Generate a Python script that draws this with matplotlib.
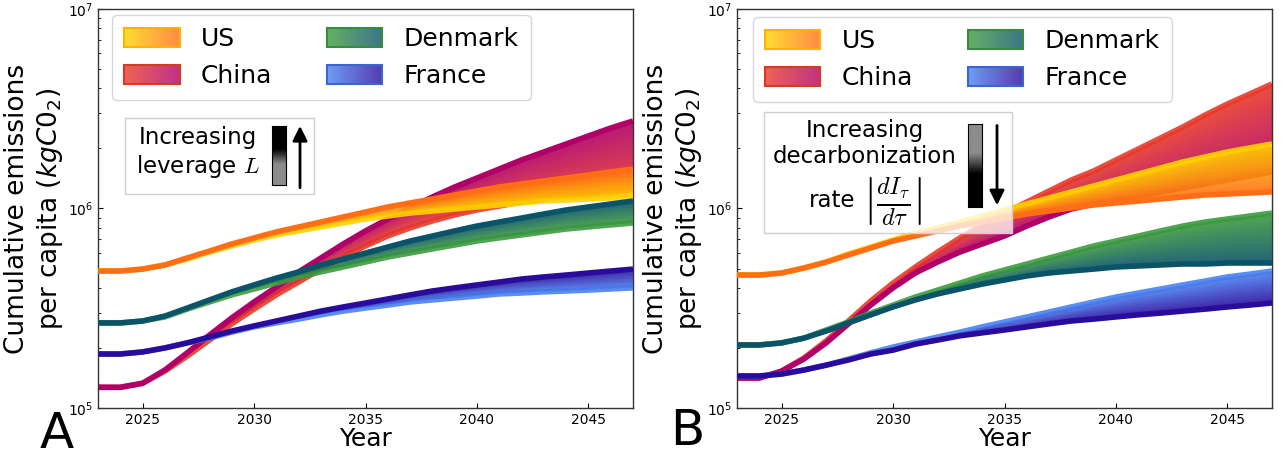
import numpy as np
import matplotlib
matplotlib.use("Agg")
import matplotlib.pyplot as plt
from matplotlib.colors import LinearSegmentedColormap, to_rgb
from matplotlib.patches import Rectangle
from matplotlib.legend_handler import HandlerBase
from matplotlib.ticker import NullFormatter

years = list(range(2023, 2048))
countries = ["US", "China", "Denmark", "France"]

# envelopes of the ensembles, in units of 1e5 kgCO2 per capita
# panel A (leverage L)
us_a_hi = [4.86, 4.86, 4.97, 5.21, 5.65, 6.12, 6.64, 7.12, 7.63, 8.08, 8.56, 9.07, 9.60,
           10.18, 10.66, 11.16, 11.69, 12.24, 12.82, 13.27, 13.74, 14.22, 14.72, 15.24, 15.78]
us_a_lo = [4.86, 4.86, 4.97, 5.21, 5.58, 6.05, 6.49, 6.95, 7.37, 7.72, 8.08, 8.46, 8.86,
           9.17, 9.49, 9.71, 9.94, 10.18, 10.41, 10.66, 10.90, 11.03, 11.16, 11.29, 11.42]
china_a_hi = [1.27, 1.27, 1.33, 1.55, 1.89, 2.32, 2.83, 3.40, 4.04, 4.81, 5.65, 6.64, 7.72,
              8.86, 10.06, 11.42, 12.82, 14.22, 15.78, 17.51, 19.20, 21.06, 23.10, 25.32, 27.46]
china_a_lo = [1.27, 1.27, 1.33, 1.53, 1.82, 2.19, 2.64, 3.13, 3.69, 4.28, 4.97, 5.71, 6.49,
              7.28, 7.99, 8.66, 9.28, 9.83, 10.29, 10.78, 11.16, 11.55, 11.82, 12.10, 12.38]
denmark_a_hi = [2.67, 2.67, 2.73, 2.89, 3.17, 3.48, 3.82, 4.14, 4.48, 4.81, 5.21, 5.58, 5.98,
                6.41, 6.87, 7.28, 7.72, 8.17, 8.56, 8.96, 9.39, 9.83, 10.18, 10.54, 10.90]
denmark_a_lo = [2.67, 2.67, 2.73, 2.86, 3.13, 3.40, 3.69, 3.95, 4.23, 4.54, 4.81, 5.09, 5.39,
                5.71, 5.98, 6.27, 6.56, 6.87, 7.12, 7.37, 7.63, 7.89, 8.08, 8.27, 8.46]
france_a_hi = [1.865, 1.865, 1.91, 2.00, 2.12, 2.27, 2.43, 2.58, 2.73, 2.89, 3.06, 3.21, 3.36,
               3.52, 3.69, 3.86, 4.00, 4.14, 4.28, 4.43, 4.54, 4.64, 4.75, 4.86, 4.97]
france_a_lo = [1.865, 1.865, 1.91, 2.00, 2.12, 2.24, 2.40, 2.55, 2.67, 2.79, 2.93, 3.06, 3.17,
               3.28, 3.40, 3.48, 3.56, 3.64, 3.73, 3.77, 3.82, 3.86, 3.90, 3.95, 4.00]

# panel B (decarbonization rate)
us_b_hi = [4.64, 4.64, 4.75, 5.03, 5.39, 5.92, 6.41, 6.95, 7.54, 7.99, 8.56, 9.17, 9.83,
           10.54, 11.29, 12.10, 12.97, 13.90, 14.89, 15.96, 17.11, 18.12, 19.20, 20.11, 21.06]
us_b_lo = [4.64, 4.64, 4.75, 5.03, 5.39, 5.85, 6.34, 6.87, 7.28, 7.72, 8.17, 8.56, 8.96,
           9.39, 9.72, 10.06, 10.41, 10.66, 10.90, 11.16, 11.42, 11.69, 11.82, 11.96, 12.10]
china_b_hi = [1.414, 1.414, 1.53, 1.78, 2.17, 2.73, 3.44, 4.23, 5.09, 6.05, 7.12, 8.27, 9.49,
              10.78, 12.24, 13.90, 15.42, 17.51, 19.87, 22.56, 25.62, 29.42, 33.41, 37.50, 42.08]
china_b_lo = [1.414, 1.414, 1.53, 1.76, 2.12, 2.64, 3.28, 4.00, 4.75, 5.39, 6.05, 6.64, 7.28,
              8.17, 9.07, 9.94, 10.54, 11.03, 11.55, 12.10, 12.67, 13.27, 13.90, 14.55, 15.24]
denmark_b_hi = [2.07, 2.07, 2.12, 2.24, 2.46, 2.70, 2.99, 3.28, 3.60, 3.90, 4.23, 4.59, 4.92,
                5.27, 5.65, 6.05, 6.49, 6.87, 7.28, 7.72, 8.17, 8.56, 8.86, 9.17, 9.49]
denmark_b_lo = [2.07, 2.07, 2.12, 2.24, 2.43, 2.67, 2.93, 3.21, 3.48, 3.73, 3.95, 4.18, 4.38,
                4.59, 4.75, 4.86, 4.97, 5.09, 5.15, 5.21, 5.27, 5.27, 5.33, 5.33, 5.33]
france_b_hi = [1.447, 1.447, 1.48, 1.55, 1.64, 1.76, 1.89, 2.02, 2.14, 2.27, 2.40, 2.55, 2.70,
               2.86, 3.03, 3.21, 3.40, 3.60, 3.77, 3.95, 4.14, 4.33, 4.54, 4.69, 4.86]
france_b_lo = [1.447, 1.447, 1.48, 1.55, 1.64, 1.74, 1.865, 1.95, 2.09, 2.19, 2.30, 2.38, 2.46,
               2.55, 2.64, 2.73, 2.79, 2.86, 2.93, 2.99, 3.06, 3.13, 3.21, 3.28, 3.36]

# colour at the two ends of each ensemble's parameter range
c_first = {"US": "#ffd200", "China": "#e83a2a", "Denmark": "#3d9b3f", "France": "#4a82f0"}
c_last = {"US": "#ff6e14", "China": "#b00068", "Denmark": "#0b5368", "France": "#2a0c9c"}
c_edge = {"US": "#ffb300", "China": "#d83a20", "Denmark": "#3a8a40", "France": "#3a66d0"}

panel_a = {"US": (us_a_lo, us_a_hi), "China": (china_a_lo, china_a_hi),
           "Denmark": (denmark_a_lo, denmark_a_hi), "France": (france_a_lo, france_a_hi)}
panel_b = {"US": (us_b_lo, us_b_hi), "China": (china_b_lo, china_b_hi),
           "Denmark": (denmark_b_lo, denmark_b_hi), "France": (france_b_lo, france_b_hi)}
draw_order = ["China", "US", "Denmark", "France"]


def lighten(c, a=0.8):
    return tuple(a * v + (1 - a) for v in to_rgb(c))


class GradHandler(HandlerBase):
    def __init__(self, c0, c1, ec):
        super().__init__()
        self.cmap = LinearSegmentedColormap.from_list("h", [lighten(c0), lighten(c1)])
        self.ec = ec

    def create_artists(self, legend, orig_handle, xdescent, ydescent, width, height, fontsize, trans):
        arts = []
        n = 40
        for i in range(n):
            arts.append(Rectangle((-xdescent + i * width / n, -ydescent), width / n * 1.2, height,
                                  facecolor=self.cmap(i / (n - 1)), edgecolor="none",
                                  transform=trans))
        arts.append(Rectangle((-xdescent, -ydescent), width, height, facecolor="none",
                              edgecolor=self.ec, lw=1.5, transform=trans))
        return arts


def draw_band(ax, lo, hi, c0, c1, last_on_top, z):
    lo = np.array(lo) * 1e5
    hi = np.array(hi) * 1e5
    cmap = LinearSegmentedColormap.from_list("b", [c0, c1])
    edge0, edge1 = (lo, hi) if last_on_top else (hi, lo)
    ax.plot(years, edge0, color=c0, lw=4, alpha=0.9, solid_capstyle="butt", zorder=z)
    # colour shading across the band
    xs = np.linspace(2023, 2047, 400)
    ys = np.logspace(5, 7, 700)
    llo = np.interp(xs, years, np.log10(lo))
    lhi = np.interp(xs, years, np.log10(hi))
    t = (np.log10(ys)[:, None] - llo[None, :]) / np.maximum(lhi - llo, 1e-6)[None, :]
    t = np.clip(t, 0, 1)
    if not last_on_top:
        t = 1 - t
    mesh = ax.pcolormesh(xs, ys, t, cmap=cmap, vmin=0, vmax=1, shading="nearest",
                         alpha=0.9, zorder=z + 0.1)
    poly = ax.fill_between(years, lo, hi, facecolor="none", edgecolor="none")
    mesh.set_clip_path(poly.get_paths()[0], ax.transData)
    poly.remove()
    ax.plot(years, edge1, color=c1, lw=4, solid_capstyle="butt", zorder=z + 0.2)


fig = plt.figure(figsize=(12.83, 4.57), dpi=100)
ax_a = fig.add_axes([98 / 1283, 49 / 457, 535 / 1283, 399 / 457])
ax_b = fig.add_axes([737 / 1283, 49 / 457, 535 / 1283, 399 / 457])

gray_black = LinearSegmentedColormap.from_list(
    "gb", [(0, "#8c8c8c"), (0.35, "#8c8c8c"), (0.6, "#000000"), (1, "#000000")])

for ax, data, last_on_top in [(ax_a, panel_a, True), (ax_b, panel_b, False)]:
    for i, c in enumerate(draw_order):
        lo, hi = data[c]
        draw_band(ax, lo, hi, c_first[c], c_last[c], last_on_top, 2 + i)
    ax.set_yscale("log")
    ax.set_ylim(1e5, 1e7)
    ax.set_xlim(2023, 2047)
    ax.set_xticks([2025, 2030, 2035, 2040, 2045])
    ax.yaxis.set_minor_formatter(NullFormatter())
    ax.tick_params(which="both", direction="in", labelsize=10)
    for sp in ax.spines.values():
        sp.set_color("#333333")
        sp.set_linewidth(1.0)
    ax.set_xlabel("Year", fontsize=18, labelpad=0)
    ax.set_ylabel("Cumulative emissions\nper capita ($kgC0_2$)", fontsize=19, ma="center")
    ax.yaxis.set_label_coords(-0.062, 0.5)

    handles = [Rectangle((0, 0), 1, 1) for _ in countries]
    hmap = {h: GradHandler(c_first[c], c_last[c], c_edge[c]) for h, c in zip(handles, countries)}
    anchor = (14 / 535, 1 - 6 / 399) if ax is ax_a else (16 / 535, 1 - 8 / 399)
    leg = ax.legend(handles, countries, handler_map=hmap, ncol=2, fontsize=18, loc="upper left",
                    bbox_to_anchor=anchor, borderaxespad=0, borderpad=0.5, handlelength=2.2,
                    handleheight=0.8, handletextpad=0.85, columnspacing=2.2, labelspacing=0.5)
    leg.set_zorder(20)

# inset A: leverage
ax_a.add_patch(Rectangle((0.0505, 0.5363), 0.3533, 0.1905, transform=ax_a.transAxes,
                         facecolor=(1, 1, 1, 0.8), edgecolor="#cfcfcf", lw=1, zorder=10))
ax_a.text(0.187, 0.640, "Increasing\nleverage $L$", transform=ax_a.transAxes, ha="center",
          va="center", ma="center", fontsize=16.5, math_fontfamily="cm", zorder=11)
cax = ax_a.inset_axes([0.325, 0.559, 0.026, 0.148], zorder=11)
cax.imshow(np.linspace(0, 1, 100)[:, None], aspect="auto", cmap=gray_black, origin="lower")
cax.set_xticks([])
cax.set_yticks([])
ax_a.annotate("", xy=(0.3776, 0.707), xytext=(0.3776, 0.552), xycoords="axes fraction",
              arrowprops=dict(arrowstyle="-|>", color="k", lw=2, mutation_scale=22,
                              shrinkA=0, shrinkB=0), zorder=11)

# inset B: decarbonization rate
ax_b.add_patch(Rectangle((0.0505, 0.4386), 0.4635, 0.3033, transform=ax_b.transAxes,
                         facecolor=(1, 1, 1, 0.75), edgecolor="#cfcfcf", lw=1, zorder=10))
ax_b.text(0.239, 0.663, "Increasing\ndecarbonization", transform=ax_b.transAxes, ha="center",
          va="center", ma="center", fontsize=16.5, zorder=11)
ax_b.text(0.2206, 0.521, "rate", transform=ax_b.transAxes, ha="right", va="center",
          fontsize=16.5, zorder=11)
ax_b.text(0.236, 0.518, "$\\left|\\frac{dI_\\tau}{d\\tau}\\right|$", transform=ax_b.transAxes,
          ha="left", va="center", fontsize=25, math_fontfamily="cm", zorder=11)
cax = ax_b.inset_axes([0.4318, 0.5038, 0.026, 0.208], zorder=11)
cax.imshow(np.linspace(0, 1, 100)[:, None], aspect="auto", cmap=gray_black, origin="upper")
cax.set_xticks([])
cax.set_yticks([])
ax_b.annotate("", xy=(0.486, 0.508), xytext=(0.486, 0.708), xycoords="axes fraction",
              arrowprops=dict(arrowstyle="-|>", color="k", lw=2, mutation_scale=22,
                              shrinkA=0, shrinkB=0), zorder=11)

fig.text(40 / 1283, 9 / 457, "A", fontsize=36, ha="left", va="baseline")
fig.text(670 / 1283, 12 / 457, "B", fontsize=36, ha="left", va="baseline")

fig.savefig("out.png", dpi=100)
